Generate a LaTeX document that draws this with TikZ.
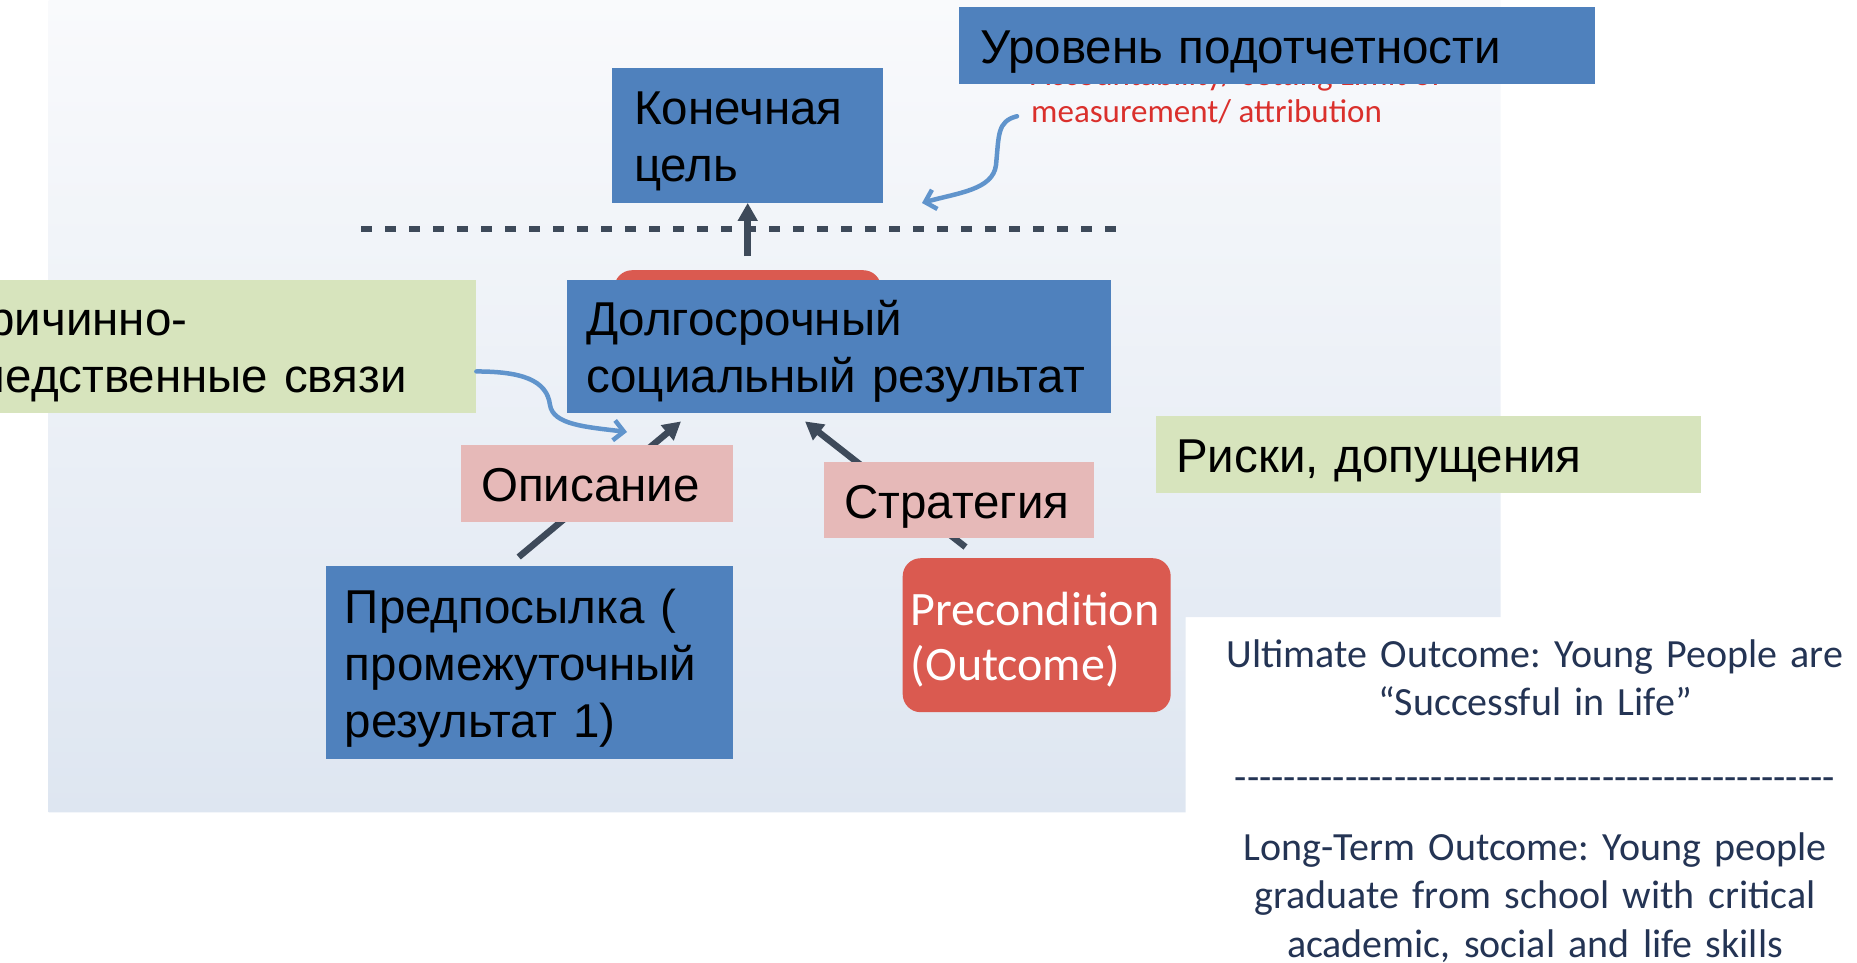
\documentclass[tikz,border=0pt]{standalone}
\usepackage{fontspec}
\setmainfont{Liberation Sans}
\newfontfamily\calfont{Carlito}
\usetikzlibrary{arrows.meta}

\definecolor{boxblue}{RGB}{79,129,189}
\definecolor{boxpink}{RGB}{230,185,184}
\definecolor{boxgreen}{RGB}{215,228,189}
\definecolor{boxred}{RGB}{218,90,80}
\definecolor{arrowdark}{RGB}{62,74,90}
\definecolor{curveblue}{RGB}{96,148,204}
\definecolor{accred}{RGB}{218,48,44}
\definecolor{navytext}{RGB}{36,52,84}
\definecolor{paneltop}{RGB}{249,250,252}
\definecolor{panelbot}{RGB}{222,230,241}

\tikzset{
  box/.style={anchor=north west, align=left, inner ysep=0pt, font=\fontsize{47.5}{57}\selectfont,
    execute at begin node={\rule{0pt}{48pt}}, execute at end node={\rule[-12pt]{0pt}{12pt}}},
  bluebox/.style={box, fill=boxblue},
  pinkbox/.style={box, fill=boxpink},
  greenbox/.style={box, fill=boxgreen},
  redbox/.style={anchor=north west, fill=boxred, rounded corners=18pt, inner ysep=0pt, align=left, text=white, font=\calfont\fontsize{48}{55}\selectfont,
    execute at begin node={\rule{0pt}{44pt}}, execute at end node={\rule[-8pt]{0pt}{8pt}}},
  darrow/.style={draw=arrowdark, line width=6.5pt, -{Triangle[length=18pt,width=19pt]}},
  barrow/.style={draw=curveblue, line width=4.5pt, line cap=round, -{Straight Barb[length=10pt,width=20pt]}},
  accnote/.style={anchor=base west, inner sep=0pt, text=accred, font=\calfont\fontsize{33}{35}\selectfont},
  note/.style={anchor=base, inner sep=0pt, align=center, text width=680pt, text=navytext, font=\calfont\fontsize{40}{48.5}\selectfont\frenchspacing},
}

\begin{document}
\begin{tikzpicture}[x=1pt,y=-1pt]
\useasboundingbox (0,0) rectangle (1857,963);
\clip (0,0) rectangle (1857,963);

% slide background
\shade[top color=paneltop, bottom color=panelbot] (48.6,0) -- (1500.6,0) -- (1500.6,617) -- (1185.5,617) -- (1185.5,812.4) -- (48.6,812.4) -- cycle;

% red note, mostly under the top box
\node[accnote] (acca) at (1031,86) {Accountability/ setting Limit of};
\node[accnote] (accb) at (1031,123) {measurement/ attribution};

\node[bluebox, text width=594pt, minimum height=77pt, inner xsep=21pt] (level) at (959,7) {Уровень подотчетности};
\node[bluebox, text width=227pt, minimum height=135pt, inner xsep=22pt] (goal) at (612,67.5) {Конечная\\цель};

\draw[draw=arrowdark, line width=6pt, dash pattern=on 11pt off 13pt] (361,228.6) -- (1122,228.6);

\node[redbox, minimum width=267pt, minimum height=135pt, inner xsep=0pt] (ltred) at (614,270) {};
\node[bluebox, text width=506pt, minimum height=133.5pt, inner xsep=19pt] (lt) at (567,279.5) {Долгосрочный\\социальный результат};
\node[greenbox, text width=508pt, minimum height=133.5pt, inner xsep=14pt] (cause) at (-60,279.5) {Причинно-\\следственные связи};
\node[bluebox, text width=369pt, minimum height=193pt, inner xsep=19pt] (pre) at (325.7,566) {Предпосылка (\\промежуточный\\результат 1)};
\node[redbox, text width=252pt, minimum height=154pt, inner xsep=8pt] (precond) at (902.5,558) {Precondition\\(Outcome)};

% arrows
\draw[darrow] ([yshift=14pt]ltred.north) -- (goal.south);
\draw[darrow] ([shift={(193,-9)}]pre.north west) -- ([shift={(114,8)}]lt.south west);
\draw[darrow] ([shift={(63,-11)}]precond.north west) -- ([shift={(238,8)}]lt.south west);

\coordinate (goalin) at (922,203);
\coordinate (causein) at (627,432);
\draw[barrow] ([shift={(-14,4)}]accb.west) .. controls +(-20,5) and +(3,-30) .. (996,165) .. controls +(-3,25) and +(35,-10) .. (goalin);
\draw[barrow] ([yshift=-25pt]cause.east) .. controls +(45,0) and +(-3,-25) .. (550,405) .. controls +(3,20) and +(-40,-5) .. (causein);

\node[pinkbox, text width=232pt, minimum height=77pt, inner xsep=20pt] (desc) at (461,445) {Описание};
\node[pinkbox, text width=230pt, minimum height=76pt, inner xsep=20pt] (strat) at (824,462) {Стратегия};
\node[greenbox, text width=505pt, minimum height=77pt, inner xsep=20pt] (risk) at (1156,416) {Риски, допущения};

% outcome notes
\node[note] (ult) at (1535,667) {Ultimate Outcome: Young People are\\“Successful in Life”};
\node[note] (sep) at (1535,790) {\foreach \k in {1,...,49}{-\kern0pt}};
\node[note] (lto) at (1535,860) {Long-Term Outcome: Young people\\graduate from school with critical\\academic, social and life skills};
\end{tikzpicture}
\end{document}
